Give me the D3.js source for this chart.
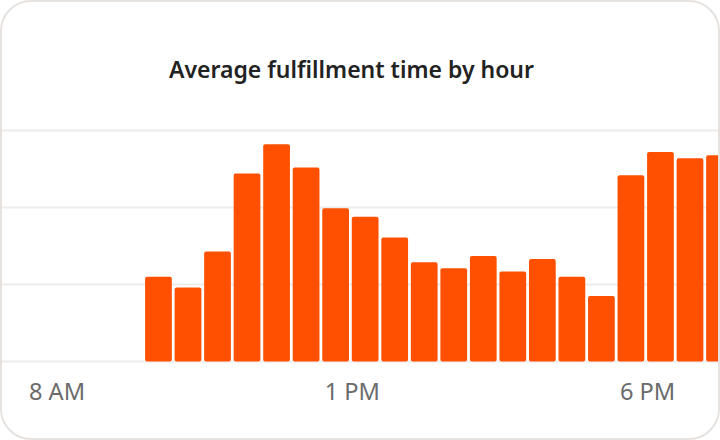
<!DOCTYPE html>
<html>
<head>
<meta charset="utf-8">
<script src="https://cdn.jsdelivr.net/npm/d3@7"></script>
<style>
  html, body { margin: 0; padding: 0; background: #ffffff; }
  svg { display: block; }
</style>
</head>
<body>
<svg id="chart" width="720" height="440"></svg>
<script>
// Half-hour slot start times (HH:MM) and average fulfillment time (minutes)
const slots = ["9:30","10:00","10:30","11:00","11:30","12:00","12:30","13:00","13:30","14:00",
               "14:30","15:00","15:30","16:00","16:30","17:00","17:30","18:00","18:30","19:00"];
const avgMinutes = [11.0, 9.6, 14.3, 24.4, 28.2, 25.2, 19.9, 18.8, 16.1, 12.9,
                    12.1, 13.7, 11.7, 13.3, 11.0, 8.5, 24.2, 27.2, 26.4, 26.8];
const tickTimes = ["8:00","13:00","18:00"];
const tickLabels = ["8 AM","1 PM","6 PM"];
const gridValues = [0, 10, 20, 30];
const title = "Average fulfillment time by hour";

const W = 720, H = 440;
const svg = d3.select("#chart");
const parse = d3.timeParse("%H:%M");

const x = d3.scaleTime()
  .domain([parse("8:00"), parse("20:00")])
  .range([56, 56 + 12 * 59.06]);
const y = d3.scaleLinear().domain([0, 30]).range([361.5, 130.5]);

const defs = svg.append("defs");
defs.append("clipPath").attr("id", "cardClip")
  .append("rect").attr("x", 2).attr("y", 2).attr("width", W - 4).attr("height", H - 4).attr("rx", 29);

// card background
svg.append("rect")
  .attr("x", 1).attr("y", 1).attr("width", W - 2).attr("height", H - 2)
  .attr("rx", 30).attr("fill", "#ffffff");

const g = svg.append("g").attr("clip-path", "url(#cardClip)");

// gridlines
g.append("g").selectAll("line").data(gridValues).join("line")
  .attr("x1", 0).attr("x2", W)
  .attr("y1", d => y(d)).attr("y2", d => y(d))
  .attr("stroke", "#eeeceb").attr("stroke-width", 2);

// bars
const halfHour = 30 * 60 * 1000;
g.append("g").selectAll("rect").data(slots.map((s, i) => ({t: parse(s), v: avgMinutes[i]}))).join("rect")
  .attr("x", d => x(d.t) + 0.5)
  .attr("width", d => x(new Date(+d.t + halfHour)) - x(d.t) - 2.8)
  .attr("y", d => y(d.v))
  .attr("height", d => y(0) - y(d.v))
  .attr("rx", 2)
  .attr("fill", "#ff4f00");

// x-axis labels
g.append("g").selectAll("text").data(tickTimes).join("text")
  .attr("x", d => x(parse(d)))
  .attr("dx", 1)
  .attr("y", 399.5)
  .attr("text-anchor", "middle")
  .attr("font-family", "'Noto Sans', sans-serif")
  .attr("font-size", 23.6)
  .attr("fill", "#6b6b6b")
  .text((d, i) => tickLabels[i]);

// title
svg.append("text")
  .attr("x", 351.5).attr("y", 77.5)
  .attr("text-anchor", "middle")
  .attr("font-family", "'Noto Sans', sans-serif")
  .attr("font-weight", 600)
  .attr("font-size", 23)
  .attr("fill", "#222222")
  .text(title);

// card border
svg.append("rect")
  .attr("x", 1).attr("y", 1).attr("width", W - 2).attr("height", H - 2)
  .attr("rx", 30).attr("fill", "none")
  .attr("stroke", "#e6e2df").attr("stroke-width", 2);
</script>
</body>
</html>
